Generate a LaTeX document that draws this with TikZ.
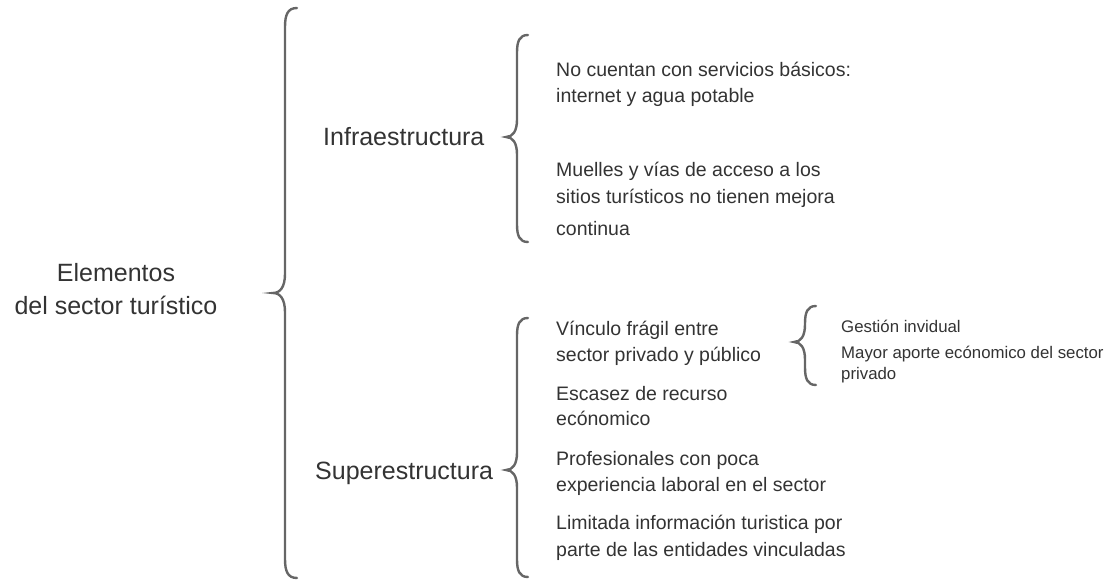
\documentclass[tikz,border=0pt]{standalone}
\usepackage{fontspec}
\setmainfont{Liberation Sans}
\definecolor{txt}{HTML}{333333}
\definecolor{brc}{HTML}{666666}
\newcommand\cbrace[5]{% spine x, top y, tip y, bottom y, half width
  \draw[bracestyle]
    ({#1+#5},{#2}) .. controls ({#1+0.2*#5},{#2}) and ({#1},{#2+0.6*#5}) .. ({#1},{#2+1.6*#5})
    -- ({#1},{#3-1.6*#5}) .. controls ({#1},{#3-0.5*#5}) and ({#1-0.4*#5},{#3}) .. ({#1-#5},{#3})
    .. controls ({#1-0.4*#5},{#3}) and ({#1},{#3+0.5*#5}) .. ({#1},{#3+1.6*#5})
    -- ({#1},{#4-1.6*#5}) .. controls ({#1},{#4-0.6*#5}) and ({#1+0.2*#5},{#4}) .. ({#1+#5},{#4});
}
\begin{document}
\begin{tikzpicture}[x=1pt,y=-1pt,
  bracestyle/.style={draw=brc,line width=2.4pt,line cap=round},
  big/.style={text=txt,inner sep=0pt,font=\fontsize{25}{30}\selectfont},
  item/.style={text=txt,inner sep=0pt,anchor=base west,font=\fontsize{19.5}{24}\selectfont},
  sub/.style={text=txt,inner sep=0pt,anchor=base west,font=\fontsize{16.8}{20}\selectfont}]
\useasboundingbox (0,0) rectangle (1118,580);
% braces
\cbrace{285}{8}{293}{578}{12}
\cbrace{517}{35}{137}{242}{11}
\cbrace{517}{318}{470}{577}{11}
\cbrace{805}{306}{342}{385}{11}
% main label
\node[big,anchor=base] (e1) at (116,281) {Elementos};
\node[big,anchor=base] (e2) at (116,314) {del sector turístico};
% second level
\node[big,anchor=base west] (inf) at (323,146) {Infraestructura};
\node[big,anchor=base west] (sup) at (315,479) {Superestructura};
% infra items
\node[item] (i1a) at (556,77) {No cuentan con servicios básicos:};
\node[item] (i1b) at (556,103) {internet y agua potable};
\node[item] (i2a) at (556,177) {Muelles y vías de acceso a los};
\node[item] (i2b) at (556,204) {sitios turísticos no tienen mejora};
\node[item] (i2c) at (556,235) {continua};
% super items
\node[item] (s1a) at (556,335) {Vínculo frágil entre};
\node[item] (s1b) at (556,361) {sector privado y público};
\node[item] (s2a) at (556,400) {Escasez de recurso};
\node[item] (s2b) at (556,425) {ecónomico};
\node[item] (s3a) at (556,465) {Profesionales con poca};
\node[item] (s3b) at (556,491) {experiencia laboral en el sector};
\node[item] (s4a) at (556,529) {Limitada información turistica por};
\node[item] (s4b) at (556,556) {parte de las entidades vinculadas};
% sub items
\node[sub] (g1) at (841,332) {Gestión invidual};
\node[sub] (g2a) at (841,358) {Mayor aporte ecónomico del sector};
\node[sub] (g2b) at (841,379) {privado};
\end{tikzpicture}
\end{document}
